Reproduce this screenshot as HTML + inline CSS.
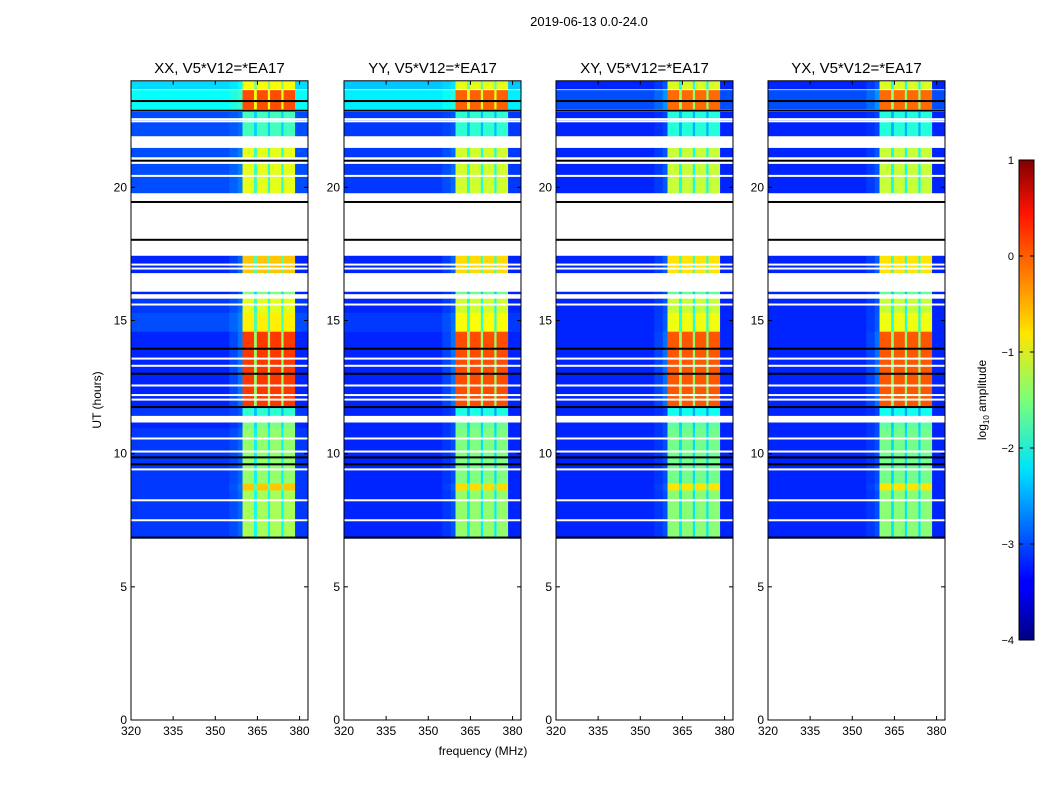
<!DOCTYPE html>
<html><head><meta charset="utf-8"><style>
body{margin:0;background:#fff;font-family:"Liberation Sans",sans-serif}
svg text{font-family:"Liberation Sans",sans-serif}
</style></head><body>
<svg id="c" width="1050" height="800" xmlns="http://www.w3.org/2000/svg">
<defs><linearGradient id="jet" x1="0" y1="1" x2="0" y2="0">
<stop offset="0" stop-color="#00007f"/><stop offset="0.11" stop-color="#0000ff"/><stop offset="0.125" stop-color="#0000ff"/><stop offset="0.34" stop-color="#00d4ff"/><stop offset="0.36" stop-color="#00e5f7"/><stop offset="0.5" stop-color="#7cff79"/><stop offset="0.64" stop-color="#ffe500"/><stop offset="0.66" stop-color="#ffd200"/><stop offset="0.89" stop-color="#ff1300"/><stop offset="1" stop-color="#7f0000"/></linearGradient></defs>
<text x="589" y="26" font-size="13" text-anchor="middle">2019-06-13 0.0-24.0</text>
<text x="483" y="755" font-size="12" text-anchor="middle">frequency (MHz)</text>
<text transform="translate(101,400) rotate(-90)" font-size="12" text-anchor="middle">UT (hours)</text>
<g id="panels"></g>
<g>
<rect x="1019" y="160" width="15" height="480" fill="url(#jet)" stroke="#000" stroke-width="1"/>
<text transform="translate(986,400) rotate(-90)" font-size="12" text-anchor="middle">log<tspan font-size="8" dy="3">10</tspan><tspan dy="-3"> amplitude</tspan></text>
<g id="cbticks"></g></g>
</svg>
<script>
const panelNames=["XX, V5*V12=*EA17","YY, V5*V12=*EA17","XY, V5*V12=*EA17","YX, V5*V12=*EA17"];
const xTicks=[320,335,350,365,380];
const yTicks=[0,5,10,15,20];
const cbTicks=[1,0,-1,-2,-3,-4];
// time segments (hours)
const segStart=[23.69,22.94,21.93,21.14,19.79,16.79,16.0,15.29,14.58,11.73,11.43,10.94,8.88,8.62,6.82];
const segEnd  =[24.0, 23.65,22.83,21.48,20.88,17.43,16.08,15.82,15.29,14.58,11.73,11.17,10.94,8.88,8.62];
const segBg   =[-2.3,-2.1,-3.0,-3.0,-3.0,-3.2,-3.2,-3.1,-3.0,-3.2,-3.1,-3.2,-3.1,-3.1,-3.1];
const segBand =[-0.9,0.0,-1.8,-1.0,-1.0,-0.6,-1.5,-1.0,-0.8,0.1,-1.9,-1.5,-1.4,-0.6,-1.3];
const panelBgShift=[0,-0.1,-0.9,-0.9];
const panelBandShift=[0,-0.1,-0.15,-0.15];
// frequency columns (MHz)
const freqEdges=[320,355,358,359.7,363.8,364.8,368.7,369.5,373.5,374.3,378.4,383];
const colWeight=[0,0.05,0.12,1,0.55,1,0.55,1,0.55,1,0];
const whiteLines=[22.56,22.48,20.43,17.1,16.95,15.6,13.57,13.3,12.56,12.2,12.03,10.57,10.08,9.41,8.25,7.5];
const blackLines=[23.24,22.88,21.0,19.45,18.03,13.94,13.0,11.75,9.86,9.6,6.85];

function jet(v){let t=Math.max(0,Math.min(1,(v+4)/5));
 const f=x=>Math.max(0,Math.min(1,x));
 const r=f(1.5-Math.abs(4*t-3)),g=f(1.5-Math.abs(4*t-2)),b=f(1.5-Math.abs(4*t-1));
 return `rgb(${Math.round(r*255)},${Math.round(g*255)},${Math.round(b*255)})`;}
const NS="http://www.w3.org/2000/svg";
function mk(tag,attrs,parent){const e=document.createElementNS(NS,tag);for(const k in attrs)e.setAttribute(k,attrs[k]);parent.appendChild(e);return e;}
const lefts=[131,344,556,768],W=177,yTop=80.8,yBot=720;
const hy=h=>yBot-h*(yBot-yTop)/24;
const root=document.getElementById('panels');
panelNames.forEach((nm,p)=>{
 const L=lefts[p];const fx=f=>L+(f-320)*W/(383-320);
 const g=mk('g',{},root);
 
 
 const t=mk('text',{x:L+W/2,y:73,'font-size':15,'text-anchor':'middle'},g);t.textContent=nm;
 
 
 const hm=mk('g',{},g);
 
 
 for(let s=0;s<segStart.length;s++){
  const bg=Math.max(-3.2,segBg[s]+panelBgShift[p]);const band=segBand[s]+panelBandShift[p];
  for(let c=0;c<colWeight.length;c++){
   const v=bg+(band-bg)*colWeight[c];
   const x0=fx(freqEdges[c]),x1=fx(freqEdges[c+1]);
   const r=mk('rect',{x:x0,y:hy(segEnd[s]),width:x1-x0+0.3,height:hy(segStart[s])-hy(segEnd[s])+0.3,fill:jet(v)},hm);
   
   
  }}
 whiteLines.forEach(h=>{const l=mk('rect',{x:L,y:hy(h)-1,width:W,height:2,fill:'#fff'},hm);
  
  });
 blackLines.forEach(h=>{const l=mk('rect',{x:L,y:hy(h)-1,width:W,height:2,fill:'#000'},hm);
  
  });
 const fr=mk('rect',{x:L,y:yTop,width:W,height:yBot-yTop,fill:'none',stroke:'#000','stroke-width':1},g);
 
 
 xTicks.forEach(v=>{const x=fx(v);
  mk('line',{x1:x,x2:x,y1:yBot,y2:yBot-4,stroke:'#000'},g);mk('line',{x1:x,x2:x,y1:yTop,y2:yTop+4,stroke:'#000'},g);
  const tt=mk('text',{x:x,y:yBot+15,'font-size':12,'text-anchor':'middle'},g);tt.textContent=v;
  
  });
 yTicks.forEach(v=>{const y=hy(v);
  mk('line',{x1:L,x2:L+4,y1:y,y2:y,stroke:'#000'},g);mk('line',{x1:L+W,x2:L+W-4,y1:y,y2:y,stroke:'#000'},g);
  const tt=mk('text',{x:L-4,y:y+4,'font-size':12,'text-anchor':'end'},g);tt.textContent=v;
  
  });
});
const cb=document.getElementById('cbticks');
cbTicks.forEach(v=>{const y=640-(v+4)*480/5;
 mk('line',{x1:1019,x2:1023,y1:y,y2:y,stroke:'#000'},cb);mk('line',{x1:1034,x2:1030,y1:y,y2:y,stroke:'#000'},cb);
 const tt=mk('text',{x:1014,y:y+4,'font-size':11,'text-anchor':'end'},cb);tt.textContent=(v<0?'\u2212'+(-v):v);
 
 });
</script>
</body></html>
